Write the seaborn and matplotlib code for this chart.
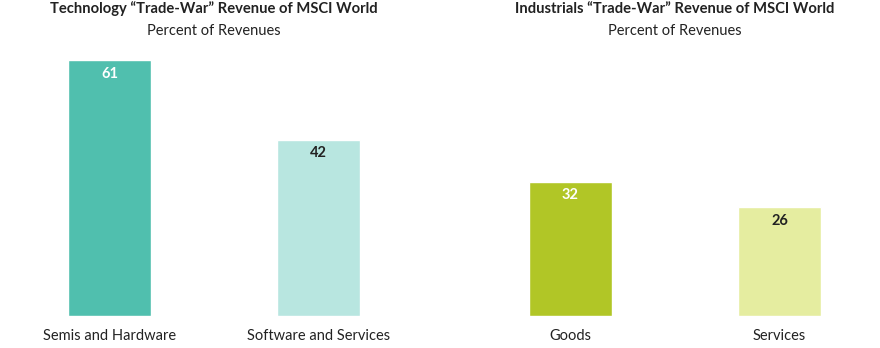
import matplotlib
matplotlib.use("Agg")
import matplotlib.pyplot as plt
import seaborn as sns
import pandas as pd

tech_categories = ["Semis and Hardware", "Software and Services"]
tech_values = [61, 42]
ind_categories = ["Goods", "Services"]
ind_values = [32, 26]

tech_colors = ["#50BFAE", "#B8E6E0"]
ind_colors = ["#B1C626", "#E5EDA0"]
label_colors_tech = ["white", "#222222"]
label_colors_ind = ["white", "#222222"]

sns.set_theme(style="white")
plt.rcParams["font.family"] = ["Lato", "DejaVu Sans"]

fig = plt.figure(figsize=(8.8, 3.48), dpi=100)
W, H = 880, 348
ymax = 70
px_per_unit = 4.2
bottom_px = 316
ax_h = ymax * px_per_unit
half_w = 0.95 * 209

def make_ax(center_px):
    left = (center_px - half_w) / W
    return fig.add_axes([left, (H - bottom_px) / H, 2 * half_w / W, ax_h / H])

ax1 = make_ax(214)
ax2 = make_ax(675)

for ax, cats, vals, cols, lcols, title in [
    (ax1, tech_categories, tech_values, tech_colors, label_colors_tech,
     "Technology \u201cTrade-War\u201d Revenue of MSCI World"),
    (ax2, ind_categories, ind_values, ind_colors, label_colors_ind,
     "Industrials \u201cTrade-War\u201d Revenue of MSCI World"),
]:
    df = pd.DataFrame({"cat": cats, "val": vals})
    sns.barplot(data=df, x="cat", y="val", hue="cat", palette=cols,
                width=0.4, legend=False, ax=ax, saturation=1)
    ax.set_ylim(0, ymax)
    ax.set_xlim(-0.45, 1.45)
    ax.set_xlabel("")
    ax.set_ylabel("")
    ax.set_yticks([])
    for s in ax.spines.values():
        s.set_visible(False)
    ax.tick_params(axis="x", length=0, pad=9, labelsize=10.5, labelcolor="#222222")
    for i, (v, c) in enumerate(zip(vals, lcols)):
        ax.text(i, v - 3.3, f"{v}", ha="center", va="center", color=c,
                fontsize=10.5, fontweight="bold")
    cx = ax.get_position().x0 + ax.get_position().width / 2
    fig.text(cx, 1 - 9 / H, title, ha="center", va="center", fontsize=10.6,
             fontweight="bold", color="#222222")
    fig.text(cx, 1 - 31 / H, "Percent of Revenues", ha="center", va="center",
             fontsize=10.5, color="#222222")

fig.savefig("out.png", dpi=100)
